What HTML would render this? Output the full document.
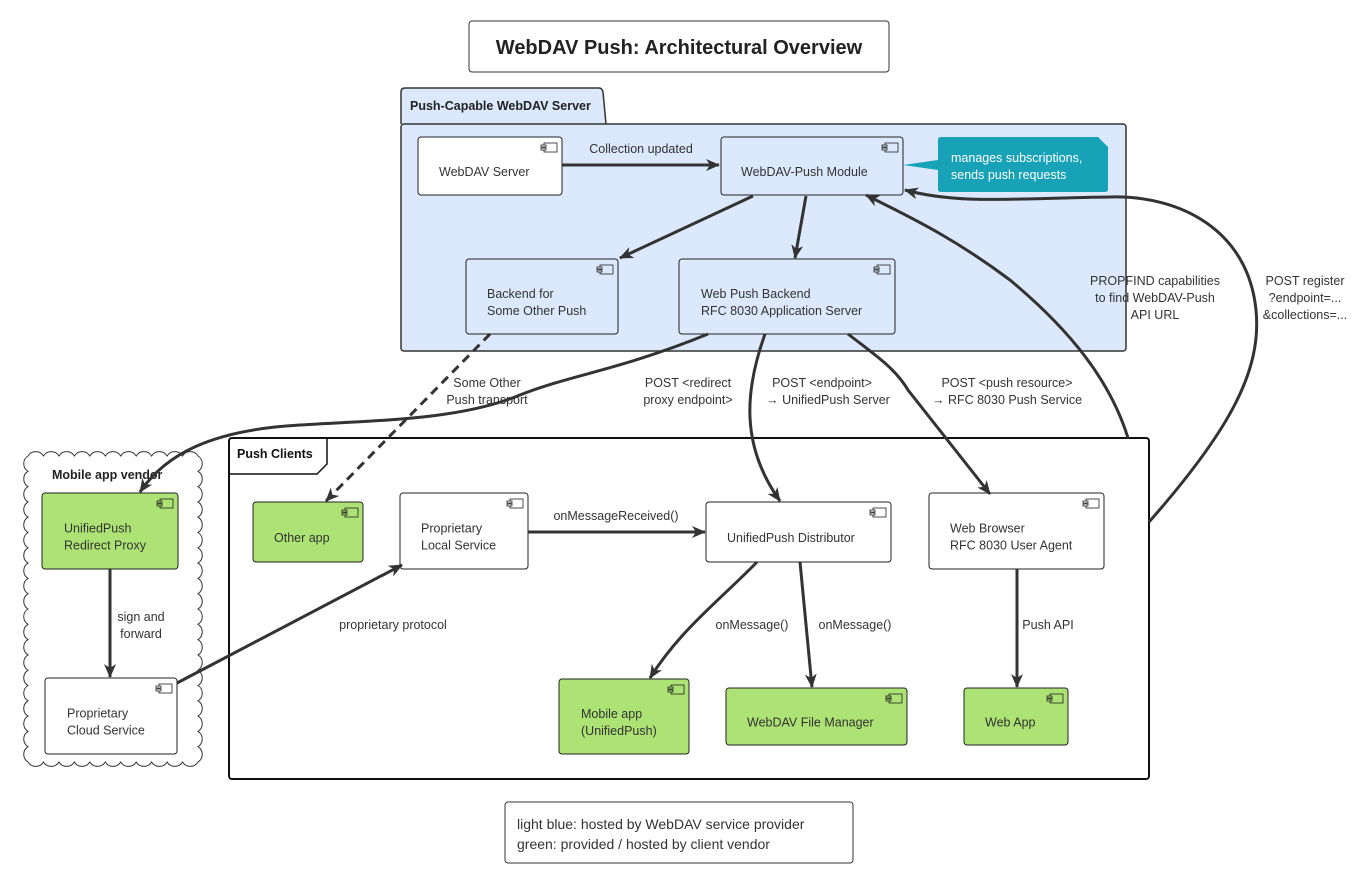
<!DOCTYPE html>
<html><head><meta charset="utf-8"><style>
html,body{margin:0;padding:0;background:#fff}
svg{display:block;font-family:"Liberation Sans","DejaVu Sans",sans-serif}
.t{font-size:12.5px;fill:#333}
.e{fill:none;stroke:#333;stroke-width:3}
</style></head><body>
<svg id="s" width="1366" height="887" viewBox="0 0 1366 887" xmlns="http://www.w3.org/2000/svg">
<defs>
<marker id="ar" viewBox="0 0 14 12" refX="13" refY="6" markerWidth="14" markerHeight="12" orient="auto" markerUnits="userSpaceOnUse">
<path d="M0,0 L14,6 L0,12 L4,6 Z" fill="#333"/></marker>
</defs>
<rect x="469" y="21" width="420" height="51" rx="3" fill="#fff" stroke="#333"/>
<text x="679" y="54" text-anchor="middle" font-size="20" font-weight="bold" fill="#222">WebDAV Push: Architectural Overview</text>
<path d="M401,124 L401,92 Q401,88 405,88 L599,88 Q602,88 603,92 L606,124" fill="#dce8fb" stroke="#333" stroke-width="1.5"/>
<rect x="401" y="124" width="725" height="227" rx="3" fill="#dce8fb" stroke="#333" stroke-width="1.5"/>
<text x="410" y="110" font-size="12.5" font-weight="bold" fill="#222">Push-Capable WebDAV Server</text>
<g id="cloud"></g>
<text x="52" y="479" font-size="12.5" font-weight="bold" fill="#222">Mobile app vendor</text>
<rect x="229" y="438" width="920" height="341" rx="3" fill="#fff" stroke="#111" stroke-width="2"/>
<path d="M229,474 L317,474 L327,464 L327,438" fill="none" stroke="#111" stroke-width="1.5"/>
<text x="237" y="458" font-size="12.5" font-weight="bold" fill="#111">Push Clients</text>
<path d="M938,140 Q938,137 941,137 L1098,137 L1108,147 L1108,189 Q1108,192 1105,192 L941,192 Q938,192 938,189 L938,170 L903,165 L938,160 Z" fill="#17a2b8"/>
<text x="951" y="162" font-size="12.5" fill="#fff">manages subscriptions,</text>
<text x="951" y="179" font-size="12.5" fill="#fff">sends push requests</text>
<g id="comps"></g>
<g class="e" marker-end="url(#ar)">
<path d="M562,165 L719,165"/>
<path d="M753,196 L620,258"/>
<path d="M806,196 L795,258"/>
<path d="M708,334 C620,370 570,375 520,395 C460,420 380,420 300,425 C210,430 165,455 140,492"/>
<path d="M765,334 C745,390 740,445 780,501"/>
<path d="M848,334 C875,355 895,368 908,390 L990,494"/>
<path d="M1128,438 C1110,380 1070,330 1010,280 C950,235 905,215 866,195"/>
<path d="M1149,522 C1230,430 1262,370 1256,310 C1248,230 1180,195 1110,197 C1020,198 960,205 905,190"/>
<path d="M110,569 L110,677"/>
<path d="M177,683 L402,565"/>
<path d="M528,532 L705,532"/>
<path d="M757,562 C720,600 680,630 650,678"/>
<path d="M800,562 L812,687"/>
<path d="M1017,569 L1017,687"/>
<path d="M490,334 L326,501" stroke-dasharray="9,6"/>
</g>
<g class="t" text-anchor="middle">
<text x="641" y="153">Collection updated</text>
<text x="487" y="387">Some Other</text><text x="487" y="404">Push transport</text>
<text x="688" y="387">POST &lt;redirect</text><text x="688" y="404">proxy endpoint&gt;</text>
<text x="822" y="387">POST &lt;endpoint&gt;</text><text x="828" y="404">→ UnifiedPush Server</text>
<text x="1007" y="387">POST &lt;push resource&gt;</text><text x="1007" y="404">→ RFC 8030 Push Service</text>
<text x="1155" y="285">PROPFIND capabilities</text><text x="1155" y="302">to find WebDAV-Push</text><text x="1155" y="319">API URL</text>
<text x="1305" y="285">POST register</text><text x="1305" y="302">?endpoint=...</text><text x="1305" y="319">&amp;collections=...</text>
<text x="141" y="621">sign and</text><text x="141" y="638">forward</text>
<text x="393" y="629">proprietary protocol</text>
<text x="616" y="520">onMessageReceived()</text>
<text x="752" y="629">onMessage()</text>
<text x="855" y="629">onMessage()</text>
<text x="1048" y="629">Push API</text>
</g>
<rect x="505" y="802" width="348" height="61" rx="3" fill="#fff" stroke="#333"/>
<text x="517" y="829" font-size="14" fill="#333">light blue: hosted by WebDAV service provider</text>
<text x="517" y="849" font-size="14" fill="#333">green: provided / hosted by client vendor</text>
</svg>
<script>
var NS="http://www.w3.org/2000/svg";
function el(p,n,a){var e=document.createElementNS(NS,n);for(var k in a)e.setAttribute(k,a[k]);p.appendChild(e);return e;}
(function(){
var g=document.getElementById('cloud');
var x0=28,y0=456,x1=198,y1=762,r=9,pts=[];
function side(ax,ay,bx,by){var L=Math.hypot(bx-ax,by-ay),n=Math.round(L/(1.7*r));for(var i=0;i<n;i++){pts.push([ax+(bx-ax)*i/n,ay+(by-ay)*i/n]);}}
side(x0,y0,x1,y0);side(x1,y0,x1,y1);side(x1,y1,x0,y1);side(x0,y1,x0,y0);
var d="M"+pts[0][0]+","+pts[0][1];
for(var i=1;i<=pts.length;i++){var p=pts[i%pts.length];d+=" A"+r+","+r+" 0 0,1 "+p[0]+","+p[1];}
el(g,'path',{d:d,fill:'#fff',stroke:'#333','stroke-width':'1'});
})();
var comps=[
[418,137,144,58,'c',['WebDAV Server'],439],
[721,137,182,58,'b',['WebDAV-Push Module'],741],
[466,259,152,75,'b',['Backend for','Some Other Push'],487],
[679,259,216,75,'b',['Web Push Backend','RFC 8030 Application Server'],701],
[42,493,136,76,'g',['UnifiedPush','Redirect Proxy'],64],
[45,678,132,76,'c',['Proprietary','Cloud Service'],67],
[253,502,110,60,'g',['Other app'],274],
[400,493,128,76,'c',['Proprietary','Local Service'],421],
[706,502,185,60,'c',['UnifiedPush Distributor'],727],
[929,493,175,76,'c',['Web Browser','RFC 8030 User Agent'],950],
[559,679,130,75,'g',['Mobile app','(UnifiedPush)'],581],
[726,688,181,57,'g',['WebDAV File Manager'],747],
[964,688,104,57,'g',['Web App'],985]];
var g=document.getElementById('comps');
comps.forEach(function(c){
var x=c[0],y=c[1],w=c[2],h=c[3];
var fill=c[4]=='g'?'#ade374':(c[4]=='b'?'#dce8fb':'#fff');
el(g,'rect',{x:x,y:y,width:w,height:h,rx:3,fill:fill,stroke:'#222','stroke-width':1});
var ix=x+w-21,iy=y+6;
el(g,'rect',{x:ix+3,y:iy,width:13,height:9,fill:fill,stroke:'#222','stroke-width':0.8});
el(g,'rect',{x:ix,y:iy+2,width:5,height:2,fill:fill,stroke:'#222','stroke-width':0.8});
el(g,'rect',{x:ix,y:iy+5,width:5,height:2,fill:fill,stroke:'#222','stroke-width':0.8});
var L=c[5],n=L.length,cy=y+h/2+10-(n-1)*8.5;
L.forEach(function(s,i){var t=el(g,'text',{x:c[6],y:cy+i*17,'font-size':'12.5',fill:'#333'});t.textContent=s;});
});
</script>
</body></html>
